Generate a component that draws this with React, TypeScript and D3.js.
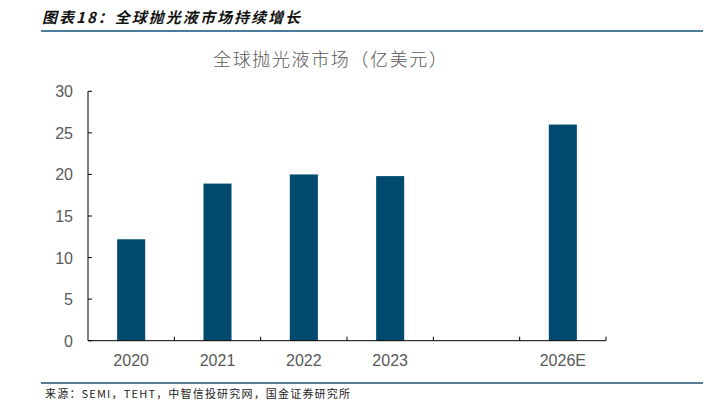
import React, { useEffect, useRef } from "react";
import * as d3 from "d3";

const categories = ["2020", "2021", "2022", "2023", "", "2026E"];
const values: (number | null)[] = [12.2, 18.9, 20.0, 19.8, null, 26.0];
const yTicks = [0, 5, 10, 15, 20, 25, 30];
const headerTitle = "图表18：全球抛光液市场持续增长";
const chartTitle = "全球抛光液市场（亿美元）";
const sourceText = "来源：SEMI，TEHT，中智信投研究网，国金证券研究所";

export default function App() {
  const ref = useRef<SVGSVGElement>(null);
  useEffect(() => {
    const svg = d3.select(ref.current);
    svg.selectAll("*").remove();
    const left = 88, right = 606, top = 91.3, bottom = 340.7;
    const keys = categories.map((c, i) => String(i));
    const x = d3.scaleBand().domain(keys).range([left, right]).paddingInner(0.675).paddingOuter(0.3375);
    const xb = d3.scaleBand().domain(keys).range([left, right]);
    const y = d3.scaleLinear().domain([0, 30]).range([bottom, top]);

    // header
    svg.append("text").attr("x", 42).attr("y", 23).text(headerTitle)
      .attr("font-family", "'Noto Sans CJK SC', sans-serif").attr("font-weight", "bold")
      .attr("font-style", "italic").attr("font-size", 15).attr("fill", "#111")
      .attr("textLength", 258).attr("lengthAdjust", "spacing");
    svg.append("line").attr("x1", 41).attr("x2", 703).attr("y1", 31).attr("y2", 31)
      .attr("stroke", "#4a7c9c").attr("stroke-width", 2);

    // chart title
    svg.append("text").attr("x", 213).attr("y", 66).text(chartTitle)
      .attr("font-family", "'Noto Sans CJK SC', sans-serif").attr("font-weight", 300)
      .attr("font-size", 18).attr("fill", "#595959")
      .attr("textLength", 234).attr("lengthAdjust", "spacing");

    // bars
    categories.forEach((c, i) => {
      const v = values[i];
      if (v == null) return;
      svg.append("rect").attr("x", x(String(i))!).attr("width", x.bandwidth())
        .attr("y", y(v)).attr("height", y(0) - y(v)).attr("fill", "#004a6f");
    });

    // y axis
    svg.append("line").attr("x1", left).attr("x2", left).attr("y1", top).attr("y2", bottom)
      .attr("stroke", "#000").attr("stroke-width", 1);
    yTicks.forEach(t => {
      svg.append("line").attr("x1", left).attr("x2", left + 4).attr("y1", y(t)).attr("y2", y(t))
        .attr("stroke", "#000");
      svg.append("text").attr("x", 73).attr("y", y(t) + 6).attr("text-anchor", "end").text(String(t))
        .attr("font-family", "'Liberation Sans', Arial, sans-serif").attr("font-size", 16).attr("fill", "#595959");
    });

    // x axis
    svg.append("line").attr("x1", left).attr("x2", right).attr("y1", bottom).attr("y2", bottom)
      .attr("stroke", "#000");
    categories.forEach((c, i) => {
      const bx = xb(String(i))! + xb.bandwidth();
      svg.append("line").attr("x1", bx).attr("x2", bx).attr("y1", bottom).attr("y2", bottom - 4).attr("stroke", "#000");
      svg.append("text").attr("x", xb(String(i))! + xb.bandwidth() / 2).attr("y", 366).attr("text-anchor", "middle")
        .text(c).attr("font-family", "'Liberation Sans', Arial, sans-serif").attr("font-size", 16).attr("fill", "#595959");
    });

    // footer
    svg.append("line").attr("x1", 41).attr("x2", 703).attr("y1", 383).attr("y2", 383)
      .attr("stroke", "#1f5273").attr("stroke-width", 1.5);
    svg.append("text").attr("x", 45).attr("y", 398).text(sourceText)
      .attr("font-family", "'Noto Sans CJK SC', monospace").attr("font-size", 11).attr("fill", "#222")
      .attr("textLength", 305).attr("lengthAdjust", "spacing");
  }, []);
  return (
    <svg ref={ref} width={714} height={404} style={{ position: "absolute", left: 0, top: 0, background: "#fff" }} />
  );
}
